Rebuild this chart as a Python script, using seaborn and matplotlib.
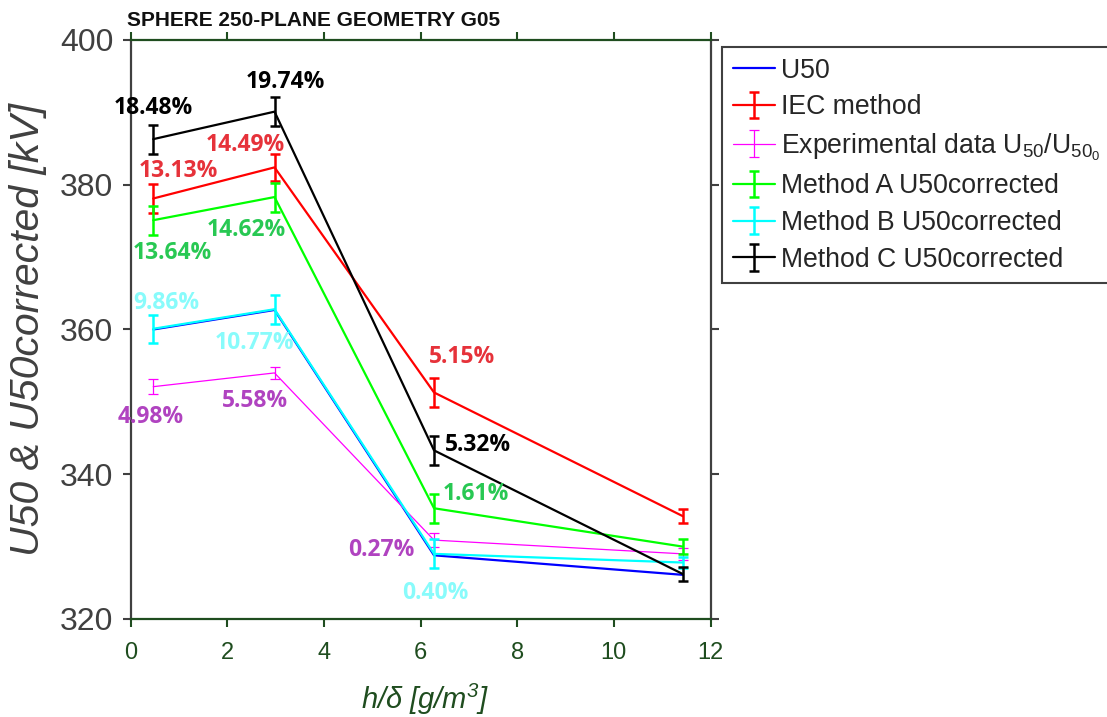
import matplotlib
matplotlib.use("Agg")
import matplotlib.pyplot as plt
from matplotlib.container import ErrorbarContainer
import seaborn as sns

# Humidity parameter h/delta [g/m^3]
x = [0.47, 2.98, 6.28, 11.43]

# Breakdown voltages [kV] and their uncertainties
u50 = [360.0, 362.7, 328.8, 326.1]
iec = [378.1, 382.4, 351.3, 334.2]
iec_err = [2.0, 1.9, 2.0, 1.0]
exp_ratio = [352.1, 354.0, 330.9, 329.0]
exp_err = [1.0, 0.8, 1.0, 0.8]
meth_a = [375.1, 378.3, 335.3, 330.0]
meth_a_err = [2.0, 2.0, 2.0, 1.0]
meth_b = [360.1, 362.8, 329.0, 327.8]
meth_b_err = [1.9, 2.0, 2.0, 0.8]
meth_c = [386.3, 390.1, 343.3, 326.2]
meth_c_err = [2.0, 2.0, 2.0, 1.0]

# Percentage deviations annotated next to the points
iec_pct = ["13.13%", "14.49%", "5.15%"]
exp_pct = ["4.98%", "5.58%", "0.27%"]
meth_a_pct = ["13.64%", "14.62%", "1.61%"]
meth_b_pct = ["9.86%", "10.77%", "0.40%"]
meth_c_pct = ["18.48%", "19.74%", "5.32%"]

legend_labels = [
    "U50",
    "IEC method",
    r"Experimental data U$\mathregular{_{50}}$/U$\mathregular{_{50_0}}$",
    "Method A U50corrected",
    "Method B U50corrected",
    "Method C U50corrected",
]

sns.set_style("white")
plt.rcParams["font.family"] = ["Liberation Sans", "DejaVu Sans"]
plt.rcParams["mathtext.default"] = "regular"

W, H = 1107, 717
fig = plt.figure(figsize=(W / 100, H / 100), dpi=100)
ax = fig.add_axes([130.5 / W, 1 - 619 / H, 580 / W, 579 / H])

GREEN_AX = "#1f4d1f"
GRAY_AX = "#404040"

series = [
    # values, errors, line colour, line width, pct labels, label offsets (px), text colour
    (u50, None, "#0000ff", 1.6, None, None, None),
    (iec, iec_err, "#ff0000", 1.6, iec_pct, [(25, 28), (-29, 22), (28, 35)], "#e6323a"),
    (exp_ratio, exp_err, "#ff00ff", 0.9, exp_pct, [(-3, -30), (-20, -28), (-53, -10)], "#b043c0"),
    (meth_a, meth_a_err, "#00ff00", 1.6, meth_a_pct, [(19, -33), (-28, -33), (42, 14)], "#28c853"),
    (meth_b, meth_b_err, "#00ffff", 1.6, meth_b_pct, [(13, 26), (-20, -34), (1, -39)], "#88fbfb"),
    (meth_c, meth_c_err, "#000000", 1.6, meth_c_pct, [(0, 31), (11, 30), (44, 5)], "#000000"),
]

handles = []
for vals, err, col, lw, pct, offs, tcol in series:
    sns.lineplot(x=x, y=vals, color=col, linewidth=lw, ax=ax, legend=False)
    line = ax.lines[-1]
    if err is None:
        handles.append(line)
        continue
    thick = lw > 1
    cont = ax.errorbar(x, vals, yerr=err, fmt="none", ecolor=col,
                       elinewidth=1.8 if thick else 0.9,
                       capsize=3.6, capthick=1.8 if thick else 0.9)
    handles.append(ErrorbarContainer((line, cont.lines[1], cont.lines[2]),
                                     has_xerr=False, has_yerr=True))
    for i, (txt, (dx, dy)) in enumerate(zip(pct, offs)):
        ax.annotate(txt, xy=(x[i], vals[i]), xytext=(dx, dy),
                    textcoords="offset pixels", ha="center", va="center",
                    color=tcol, fontsize=16.5, fontweight="bold",
                    family=["Open Sans", "DejaVu Sans"])

ax.set_xlim(0, 12)
ax.set_ylim(320, 400)
ax.set_xticks(range(0, 13, 2))
ax.set_yticks(range(320, 401, 20))

for side in ("top", "bottom"):
    ax.spines[side].set_color(GREEN_AX)
    ax.spines[side].set_linewidth(1.6)
for side in ("left", "right"):
    ax.spines[side].set_color(GRAY_AX)
    ax.spines[side].set_linewidth(1.6)

ax.tick_params(axis="x", direction="out", top=True, bottom=True, labeltop=False,
               length=5.5, width=1.5, color=GREEN_AX, labelcolor=GREEN_AX,
               labelsize=17, pad=11)
ax.tick_params(axis="y", direction="out", left=True, right=True, labelright=False,
               length=5.5, width=1.5, color=GRAY_AX, labelcolor=GRAY_AX,
               labelsize=23, pad=7)

ax.set_xlabel(r"h/δ [g/m$\mathregular{^3}$]", fontsize=21, fontstyle="italic",
              color=GREEN_AX, va="center")
ax.xaxis.set_label_coords(0.508, -0.138)
ax.set_ylabel("U50 & U50corrected [kV]", fontsize=29.5, fontstyle="italic",
              color=GRAY_AX, va="center")
ax.yaxis.set_label_coords(-0.176, 0.5)

fig.text(314 / W, 1 - 21 / H, "SPHERE 250-PLANE GEOMETRY G05", ha="center",
         va="center", fontsize=15, fontweight="bold", color="#111111",
         family=["Liberation Sans Narrow", "Liberation Sans", "DejaVu Sans"])

leg = fig.legend(handles, legend_labels, loc="upper left",
                 bbox_to_anchor=(722 / W, 1 - 47 / H), borderaxespad=0,
                 fontsize=19.2, frameon=True, fancybox=False, framealpha=1,
                 edgecolor=GRAY_AX, handlelength=1.6, handletextpad=0.2,
                 labelspacing=0.4, borderpad=0.4)
leg.get_frame().set_linewidth(1.5)

fig.savefig("out.png", dpi=100)
